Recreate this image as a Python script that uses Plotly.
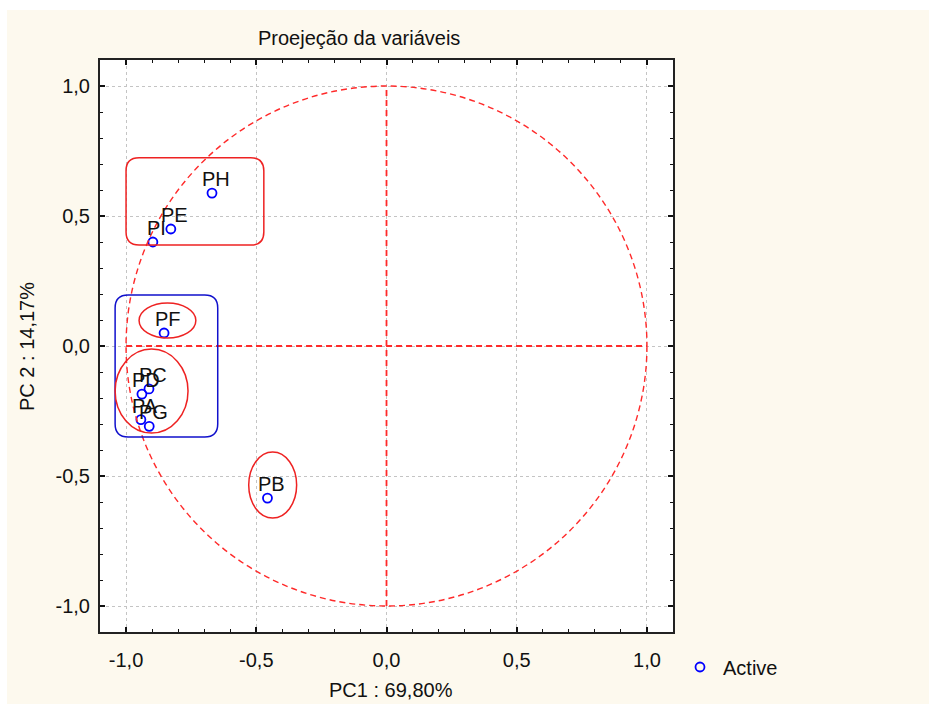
import plotly.graph_objects as go

# ---- data ----
var_names = ["PA", "PB", "PC", "PD", "PE", "PF", "PG", "PH", "PI"]
pc1 = [-0.943, -0.457, -0.912, -0.939, -0.828, -0.854, -0.911, -0.670, -0.897]
pc2 = [-0.283, -0.585, -0.165, -0.185, 0.450, 0.050, -0.309, 0.588, 0.400]

tick_vals = [-1.0, -0.5, 0.0, 0.5, 1.0]
tick_text = ["-1,0", "-0,5", "0,0", "0,5", "1,0"]

title_text = "Proejeção da variáveis"
x_title = "PC1 : 69,80%"
y_title = "PC 2 : 14,17%"
legend_name = "Active"

# group outlines (data coordinates): rounded rectangles and ellipses
round_rects = [  # x0, x1, y0, y1, color
    (-1.000, -0.471, 0.388, 0.724, "#ee2222"),
    (-1.042, -0.648, -0.350, 0.196, "#1111cc"),
]
ellipses = [
    (-0.950, -0.732, 0.031, 0.165),
    (-1.042, -0.762, -0.335, -0.012),
    (-0.529, -0.345, -0.662, -0.408),
]

FONT = "Liberation Sans, Arial, sans-serif"
FS = 20
RED = "#ff2a2a"

fig = go.Figure()
fig.add_trace(go.Scatter(
    x=pc1, y=pc2, mode="markers", name=legend_name,
    marker=dict(symbol="circle-open", size=9, color="#0000ff",
                line=dict(width=1.8, color="#0000ff")),
    showlegend=True,
))

shapes = []
# cream background of the figure, white plot area
shapes.append(dict(type="rect", xref="paper", yref="paper",
                   x0=(7 - 100) / 573, x1=(940 - 100) / 573,
                   y0=(632 - 710) / 572, y1=(632 - 10) / 572,
                   fillcolor="#fdf9ee", line=dict(width=0), layer="below"))
shapes.append(dict(type="rect", xref="paper", yref="paper", x0=0, x1=1, y0=0, y1=1,
                   fillcolor="white", line=dict(width=0), layer="below"))
# unit circle and axes lines
shapes.append(dict(type="circle", xref="x", yref="y", x0=-1, y0=-1, x1=1, y1=1,
                   line=dict(color=RED, width=1.4, dash="6px,4px")))
shapes.append(dict(type="line", xref="x", yref="y", x0=-1, y0=0, x1=1, y1=0,
                   line=dict(color=RED, width=1.8, dash="6px,4px")))
shapes.append(dict(type="line", xref="x", yref="y", x0=0, y0=-1, x1=0, y1=1,
                   line=dict(color=RED, width=1.8, dash="6px,4px")))


def rounded_rect(x0, x1, y0, y1, r=0.05):
    return (f"M {x0 + r},{y0} L {x1 - r},{y0} Q {x1},{y0} {x1},{y0 + r} "
            f"L {x1},{y1 - r} Q {x1},{y1} {x1 - r},{y1} "
            f"L {x0 + r},{y1} Q {x0},{y1} {x0},{y1 - r} "
            f"L {x0},{y0 + r} Q {x0},{y0} {x0 + r},{y0} Z")


for x0, x1, y0, y1, c in round_rects:
    shapes.append(dict(type="path", xref="x", yref="y", path=rounded_rect(x0, x1, y0, y1),
                       line=dict(color=c, width=1.5)))
for x0, x1, y0, y1 in ellipses:
    shapes.append(dict(type="circle", xref="x", yref="y", x0=x0, x1=x1, y0=y0, y1=y1,
                       line=dict(color="#ee2222", width=1.5)))

annotations = []
for n, x, y in zip(var_names, pc1, pc2):
    annotations.append(dict(x=x, y=y, xref="x", yref="y", text=n, showarrow=False,
                            xanchor="center", yanchor="middle",
                            xshift=4, yshift=14, font=dict(size=FS, color="#111", family=FONT)))
annotations.append(dict(text=title_text, xref="paper", yref="paper",
                        x=(359 - 100) / 573, y=(632 - 38) / 572, showarrow=False,
                        xanchor="center", yanchor="middle",
                        font=dict(size=FS, color="#111", family=FONT)))
annotations.append(dict(text=x_title, xref="paper", yref="paper",
                        x=(391 - 100) / 573, y=(632 - 690) / 572, showarrow=False,
                        xanchor="center", yanchor="middle",
                        font=dict(size=FS, color="#111", family=FONT)))
annotations.append(dict(text=y_title, xref="paper", yref="paper", textangle=-90,
                        x=(27 - 100) / 573, y=(632 - 347) / 572, showarrow=False,
                        xanchor="center", yanchor="middle",
                        font=dict(size=FS, color="#111", family=FONT)))

axis_common = dict(
    range=[-1.1, 1.1], tickvals=tick_vals, ticktext=tick_text,
    ticks="inside", ticklen=5, tickwidth=1.5, tickcolor="#111",
    showline=True, linecolor="#222", linewidth=2, mirror="ticks",
    showgrid=True, gridcolor="#c4c4c4", gridwidth=1, griddash="dot",
    zeroline=False, tickfont=dict(size=FS, color="#111", family=FONT),
    minor=dict(dtick=0.1, tick0=0, ticks="inside", ticklen=3, tickcolor="#111",
               tickwidth=1.2, showgrid=False),
)

fig.update_layout(
    width=929, height=704,
    margin=dict(l=100, r=256, t=60, b=72),
    paper_bgcolor="white", plot_bgcolor="white",
    xaxis=dict(**axis_common, ticklabelstandoff=9),
    yaxis=dict(**axis_common, ticklabelstandoff=4),
    shapes=shapes, annotations=annotations,
    showlegend=True,
    legend=dict(x=(677 - 100) / 573, y=(632 - 667) / 572, xanchor="left", yanchor="middle",
                itemwidth=36,
                bgcolor="rgba(0,0,0,0)", font=dict(size=FS, color="#111", family=FONT)),
    font=dict(family=FONT),
)

fig.write_html("out.html")
